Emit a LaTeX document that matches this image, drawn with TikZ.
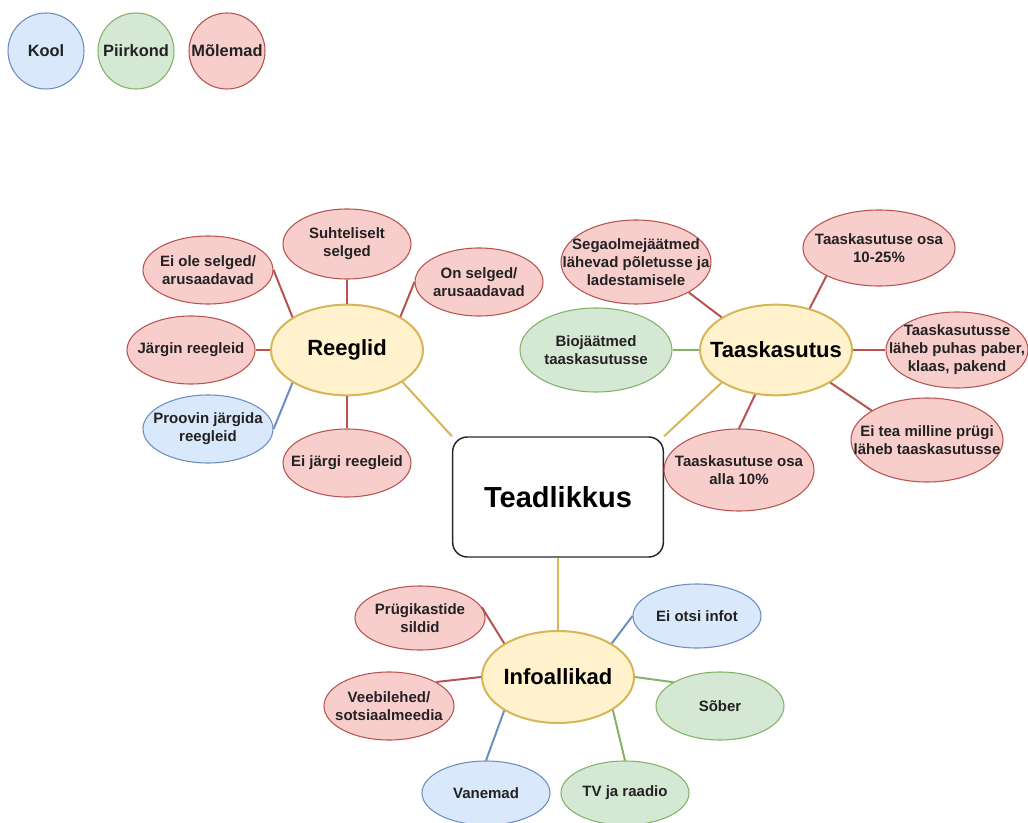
\documentclass[tikz,border=0pt]{standalone}
\usepackage{fontspec}
\setmainfont{Liberation Sans}
\usetikzlibrary{shapes.geometric}
\definecolor{bfill}{HTML}{DAE8FC}\definecolor{bline}{HTML}{6C8EBF}
\definecolor{gfill}{HTML}{D5E8D4}\definecolor{gline}{HTML}{82B366}
\definecolor{rfill}{HTML}{F8CECC}\definecolor{rline}{HTML}{B85450}
\definecolor{yfill}{HTML}{FFF2CC}\definecolor{yline}{HTML}{D6B656}
\definecolor{txt}{HTML}{222222}
\tikzset{
  lt/.style={align=center, text=txt, inner sep=0pt, font=\bfseries\fontsize{11.25}{13.5}\selectfont},
  ht/.style={align=center, text=black, inner sep=0pt, font=\bfseries\fontsize{16.5}{19}\selectfont},
  T/.style={label={[lt]center:{#1}}},
  H/.style={label={[ht]center:{#1}}},
  leaf/.style={ellipse, inner sep=0pt, line width=0.8pt},
  blue/.style={leaf, draw=bline, fill=bfill},
  green/.style={leaf, draw=gline, fill=gfill},
  red/.style={leaf, draw=rline, fill=rfill},
  sz/.style 2 args={minimum width={#1*1.5pt}, minimum height={#2*1.5pt}},
  hub/.style={ellipse, inner sep=0pt, draw=yline, fill=yfill, line width=1.5pt,
    minimum width=114pt, minimum height=68pt},
  legend/.style={circle, inner sep=0pt, minimum size=57pt, line width=0.8pt, text=txt,
    font=\bfseries\fontsize{12.3}{14}\selectfont},
  rcon/.style={draw=rline, line width=1.5pt},
  bcon/.style={draw=bline, line width=1.5pt},
  gcon/.style={draw=gline, line width=1.5pt},
  ycon/.style={draw=yline, line width=1.5pt},
}
\begin{document}
\begin{tikzpicture}[x=0.75pt, y=-0.75pt]
\useasboundingbox[fill=white] (0,0) rectangle (1028,823);
% legend
\node[legend, draw=bline, fill=bfill] (lk) at (46,51) {Kool};
\node[legend, draw=gline, fill=gfill] (lp) at (136,51) {Piirkond};
\node[legend, draw=rline, fill=rfill] (lm) at (227,51) {Mõlemad};
% centre
\node[draw={rgb,255:red,40;green,40;blue,40}, line width=1.1pt, rounded corners=11pt, fill=white,
  minimum width=158pt, minimum height=90pt, inner sep=0pt,
  font=\bfseries\fontsize{21.75}{25}\selectfont] (tead) at (558,497) {Teadlikkus};
% Reeglid
\node[hub, H={Reeglid}] (reeg) at (347,350) {};
\node[red, sz={64}{35}, T={Suhteliselt\\selged}] (suht) at (347,244) {};
\node[red, sz={65}{34}, T={Ei ole selged/\\arusaadavad}] (eiole) at (208,270) {};
\node[red, sz={64}{34}, T={On selged/\\arusaadavad}] (onsel) at (479,282) {};
\node[red, sz={64}{34}, T={Järgin reegleid}] (jargin) at (191,350) {};
\node[blue, sz={65}{34}, T={Proovin järgida\\reegleid}] (proov) at (208,429) {};
\node[red, sz={64}{34}, T={Ei järgi reegleid}] (eijargi) at (347,463) {};
% Taaskasutus
\node[hub, H={Taaskasutus}] (taas) at (776,350) {};
\node[red, sz={75}{42}, T={Segaolmejäätmed\\lähevad põletusse ja\\ladestamisele}] (seg) at (636,262) {};
\node[red, sz={76}{38}, T={Taaskasutuse osa\\10-25\%}] (p1025) at (879,248) {};
\node[green, sz={76}{42}, T={Biojäätmed\\taaskasutusse}] (bio) at (596,350) {};
\node[red, sz={71}{38}, T={Taaskasutusse\\läheb puhas paber,\\klaas, pakend}] (paber) at (957,350) {};
\node[red, sz={76}{42}, T={Ei tea milline prügi\\läheb taaskasutusse}] (eitea) at (927,440) {};
\node[red, sz={75}{41}, T={Taaskasutuse osa\\alla 10\%}] (alla) at (739,470) {};
% Infoallikad
\node[hub, minimum height=69pt, H={Infoallikad}] (info) at (558,677) {};
\node[red, sz={65}{32}, T={Prügikastide\\sildid}] (prug) at (420,618) {};
\node[red, sz={65}{34}, T={Veebilehed/\\sotsiaalmeedia}] (veeb) at (389,706) {};
\node[blue, sz={64}{32}, T={Ei otsi infot}] (eiotsi) at (697,616) {};
\node[green, sz={64}{34}, T={Sõber}] (sober) at (720,706) {};
\node[blue, sz={64}{32}, T={Vanemad}] (van) at (486,793) {};
\node[green, sz={64}{32}, T={TV ja raadio}] (tv) at (625,793) {};
% connectors - Reeglid
\draw[rcon] (eiole.east) -- (reeg.149);
\draw[rcon] (suht.south) -- (reeg.north);
\draw[rcon] (onsel.west) -- (reeg.32);
\draw[rcon] (jargin.east) -- (reeg.west);
\draw[bcon] (proov.east) -- (reeg.211);
\draw[rcon] (eijargi.north) -- (reeg.south);
\draw[ycon] (reeg.-30) -- (tead.north west);
% connectors - Taaskasutus
\draw[rcon] (seg.-30) -- (taas.149);
\draw[rcon] (p1025.208) -- (taas.51);
\draw[gcon] (bio.east) -- (taas.west);
\draw[rcon] (taas.east) -- (paber.west);
\draw[rcon] (taas.-31) -- (eitea.152);
\draw[rcon] (alla.north) -- (taas.245);
\draw[ycon] (taas.211) -- (tead.north east);
% connectors - Infoallikad
\draw[ycon] (tead.south) -- (info.north);
\draw[rcon] (prug.10) -- (info.148);
\draw[rcon] (veeb.27) -- (info.west);
\draw[bcon] (eiotsi.west) -- (info.32);
\draw[gcon] (info.east) -- (sober.153);
\draw[bcon] (info.212) -- (van.north);
\draw[gcon] (info.-31) -- (tv.north);
\end{tikzpicture}
\end{document}
